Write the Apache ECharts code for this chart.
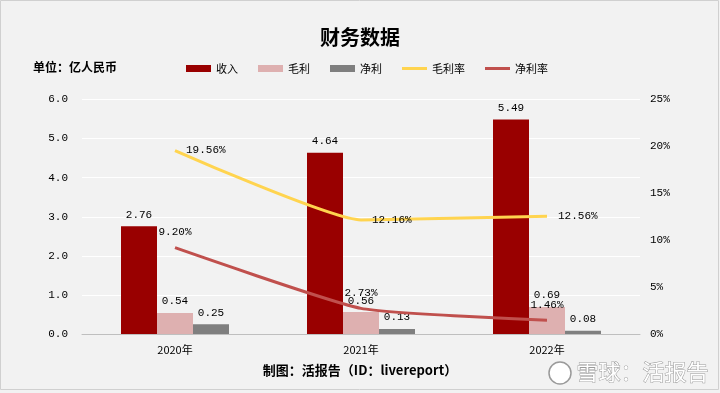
<!DOCTYPE html>
<html><head><meta charset="utf-8">
<script src="https://cdn.jsdelivr.net/npm/echarts@6/dist/echarts.min.js"></script>
<style>html,body{margin:0;padding:0;background:#F2F2F2}#c{width:720px;height:393px}</style>
</head><body><div id="c"></div>
<script>
const categories = ['2020年', '2021年', '2022年'];
const revenue = [2.76, 4.64, 5.49];
const grossProfit = [0.54, 0.56, 0.69];
const netProfit = [0.25, 0.13, 0.08];
const grossMargin = [19.56, 12.16, 12.56];
const netMargin = [9.20, 2.73, 1.46];
const leftTicks = [0, 6, 1];
const rightTicks = [0, 25, 5];

const mono = "'Liberation Mono', 'DejaVu Sans Mono', monospace";
const cjk = "'Noto Sans CJK SC', sans-serif";
const lineIcon = 'path://M0 0M25 7M0 2h25v3H0z';
const chart = echarts.init(document.getElementById('c'));
const barLabel = {show: true, position: 'top', color: '#000', fontFamily: mono, fontSize: 11, formatter: p => p.value.toFixed(2), distance: 6};
chart.setOption({
  backgroundColor: '#F2F2F2',
  animation: false,
  title: {text: '财务数据', left: 'center', top: 22, textStyle: {fontFamily: cjk, fontSize: 20, fontWeight: 'bold', color: '#000'}},
  graphic: [
    {type: 'rect', shape: {x: 0.5, y: 0.5, width: 718, height: 389}, style: {fill: 'none', stroke: '#D0D0D0', lineWidth: 1}, silent: true},
    {type: 'text', left: 33, top: 61, style: {text: '单位：亿人民币', font: 'bold 12px ' + cjk, fill: '#000'}},
    {type: 'text', left: 'center', top: 364, style: {text: '制图：活报告（ID：livereport）', font: 'bold 13px ' + cjk, fill: '#000'}},
    {type: 'circle', shape: {cx: 560, cy: 373, r: 11}, style: {fill: '#fff', stroke: '#9a9a9a', lineWidth: 1.5}},
    {type: 'text', left: 576, top: 360, style: {text: '雪球：活报告', font: '22px ' + cjk, fill: '#fff', stroke: '#9a9a9a', lineWidth: 1}}
  ],
  legend: {
    left: 181, top: 58, itemWidth: 25, itemHeight: 7, itemGap: 20,
    textStyle: {fontFamily: cjk, fontSize: 11, color: '#000'},
    data: [
      {name: '收入', icon: 'rect'}, {name: '毛利', icon: 'rect'}, {name: '净利', icon: 'rect'},
      {name: '毛利率', icon: lineIcon, itemStyle: {color: '#FFD44F'}}, {name: '净利率', icon: lineIcon, itemStyle: {color: '#C0504D'}}
    ]
  },
  grid: {left: 82, right: 80, top: 99.5, bottom: 59},
  xAxis: {
    type: 'category', data: categories,
    axisLine: {lineStyle: {color: '#BFBFBF'}}, axisTick: {show: false},
    axisLabel: {color: '#000', fontFamily: cjk, fontSize: 11, margin: 10}
  },
  yAxis: [
    {type: 'value', min: leftTicks[0], max: leftTicks[1], interval: leftTicks[2],
     splitLine: {lineStyle: {color: '#FFFFFF', width: 1}},
     axisLabel: {color: '#000', fontFamily: mono, fontSize: 11, margin: 14, formatter: v => v.toFixed(1)}},
    {type: 'value', min: rightTicks[0], max: rightTicks[1], interval: rightTicks[2],
     splitLine: {show: false},
     axisLabel: {color: '#000', fontFamily: mono, fontSize: 11, margin: 10, formatter: v => v + '%'}}
  ],
  series: [
    {name: '收入', type: 'bar', data: revenue, barWidth: 36, barGap: '0%', itemStyle: {color: '#990000'}, label: barLabel},
    {name: '毛利', type: 'bar', data: grossProfit, barWidth: 36, barGap: '0%', itemStyle: {color: '#DEB0B0'}, label: barLabel},
    {name: '净利', type: 'bar', data: netProfit, barWidth: 36, barGap: '0%', itemStyle: {color: '#7F7F7F'}, label: barLabel},
    {name: '毛利率', type: 'line', yAxisIndex: 1, data: grossMargin, symbol: 'circle', symbolSize: 0, showSymbol: true, smooth: 0.15,
     lineStyle: {color: '#FFD44F', width: 3}, itemStyle: {color: '#FFD44F'},
     label: {show: true, position: 'right', color: '#000', fontFamily: mono, fontSize: 11, distance: 11, formatter: p => p.value.toFixed(2) + '%'}},
    {name: '净利率', type: 'line', yAxisIndex: 1, data: netMargin, symbol: 'circle', symbolSize: 0, showSymbol: true, smooth: 0.15,
     lineStyle: {color: '#C0504D', width: 3}, itemStyle: {color: '#C0504D'},
     label: {show: true, position: 'top', color: '#000', fontFamily: mono, fontSize: 11, distance: 10, formatter: p => p.value.toFixed(2) + '%'}}
  ]
});
</script></body></html>
